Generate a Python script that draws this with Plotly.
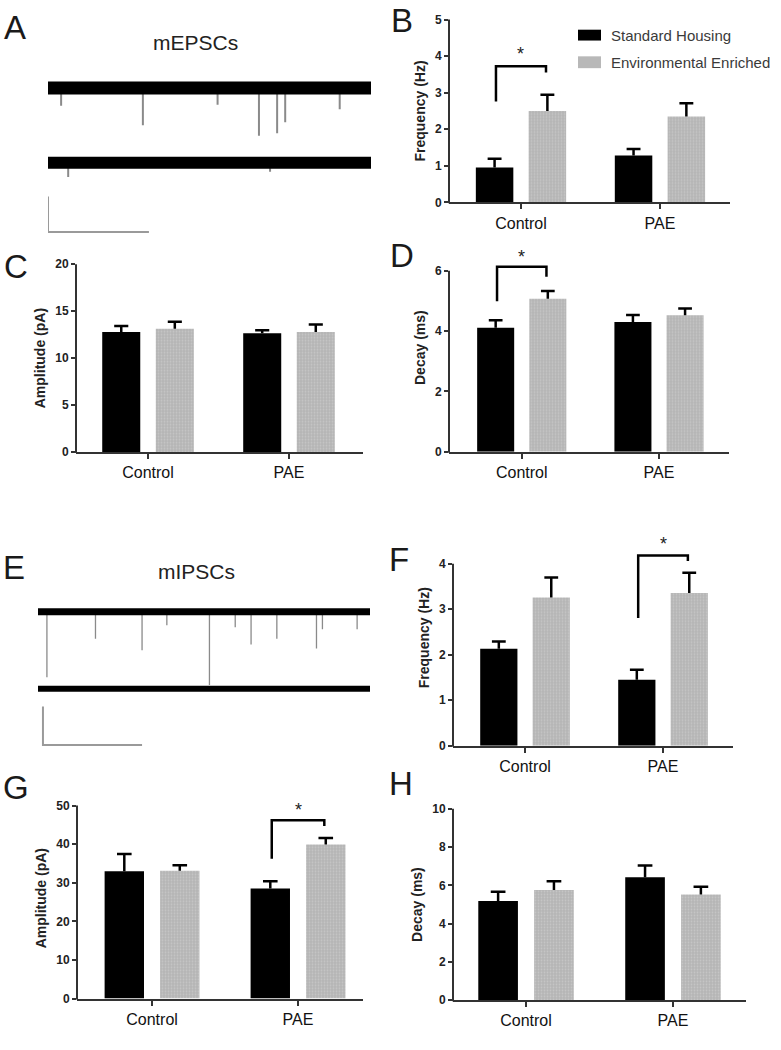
import plotly.graph_objects as go

W, H = 781, 1050
FONT = "Liberation Sans, Arial, sans-serif"

groups = ["Control", "PAE"]
series_names = ["Standard Housing", "Environmental Enriched"]

# ---- mEPSCs ----
b_freq_sh = [0.95, 1.28]
b_freq_sh_sem = [0.24, 0.18]
b_freq_ee = [2.50, 2.35]
b_freq_ee_sem = [0.44, 0.36]

c_amp_sh = [12.78, 12.64]
c_amp_sh_sem = [0.63, 0.32]
c_amp_ee = [13.13, 12.78]
c_amp_ee_sem = [0.74, 0.81]

d_decay_sh = [4.11, 4.30]
d_decay_sh_sem = [0.25, 0.23]
d_decay_ee = [5.07, 4.52]
d_decay_ee_sem = [0.26, 0.23]

# ---- mIPSCs ----
f_freq_sh = [2.13, 1.45]
f_freq_sh_sem = [0.16, 0.22]
f_freq_ee = [3.26, 3.36]
f_freq_ee_sem = [0.44, 0.44]

g_amp_sh = [32.96, 28.5]
g_amp_sh_sem = [4.5, 1.9]
g_amp_ee = [33.1, 39.9]
g_amp_ee_sem = [1.4, 1.7]

h_decay_sh = [5.19, 6.43]
h_decay_sh_sem = [0.48, 0.61]
h_decay_ee = [5.76, 5.53]
h_decay_ee_sem = [0.46, 0.40]

# example traces: event times (s) and amplitudes (pA)
mepsc_duration = 3.2
mepsc_top_event_t = [0.13, 0.94, 1.68, 2.09, 2.27, 2.35, 2.89]
mepsc_top_event_amp = [10, 21, 9.5, 27, 25.6, 19.4, 12]
mepsc_bottom_event_t = [0.2, 2.2]
mepsc_bottom_event_amp = [8, 5]

mipsc_duration = 3.35
mipsc_top_event_t = [0.09, 0.58, 1.05, 1.30, 1.73, 1.99, 2.15, 2.41, 2.81, 2.87, 3.22]
mipsc_top_event_amp = [34, 14, 20, 7, 38, 8, 17, 14, 19, 9, 9]
mipsc_bottom_event_t = []
mipsc_bottom_event_amp = []

scale_t = 1.0   # s
scale_i = 20.0  # pA

BARGAP = 0.24
BAR_OFF = (1 - BARGAP) / 4   # centre offset of each bar within its group
CAP = 0.05                   # half cap width (category units)


def px_x(p):
    return p / W


def px_y(p):
    return 1 - p / H


fig = go.Figure()
shapes = []
annotations = []
layout = {}

bar_panels = [
    dict(ax=1, sh=b_freq_sh, shs=b_freq_sh_sem, ee=b_freq_ee, ees=b_freq_ee_sem,
         title="Frequency (Hz)", ticks=[0, 1, 2, 3, 4, 5], ymax=5, ytop=5,
         px=(449, 730, 198, 12.7), xr=[-0.518, 1.504],
         sig=dict(g=0, yl=2.76, yt=3.72, yr=3.55, ys=4.17)),
    dict(ax=2, sh=c_amp_sh, shs=c_amp_sh_sem, ee=c_amp_ee, ees=c_amp_ee_sem,
         title="Amplitude (pA)", ticks=[0, 5, 10, 15, 20], ymax=20, ytop=20,
         px=(76, 363, 451, 260.7), xr=[-0.511, 1.525], sig=None),
    dict(ax=3, sh=d_decay_sh, shs=d_decay_sh_sem, ee=d_decay_ee, ees=d_decay_ee_sem,
         title="Decay (ms)", ticks=[0, 2, 4, 6], ymax=6, ytop=6.9,
         px=(449, 729, 450.7, 267.3), xr=[-0.53, 1.51],
         sig=dict(g=0, yl=4.99, yt=6.13, yr=5.8, ys=6.59)),
    dict(ax=4, sh=f_freq_sh, shs=f_freq_sh_sem, ee=f_freq_ee, ees=f_freq_ee_sem,
         title="Frequency (Hz)", ticks=[0, 1, 2, 3, 4], ymax=4, ytop=4.75,
         px=(453, 733, 748.7, 564.3), xr=[-0.522, 1.507],
         sig=dict(g=1, yl=2.81, yt=4.18, yr=4.06, ys=4.52)),
    dict(ax=5, sh=g_amp_sh, shs=g_amp_sh_sem, ee=g_amp_ee, ees=g_amp_ee_sem,
         title="Amplitude (pA)", ticks=[0, 10, 20, 30, 40, 50], ymax=50, ytop=52,
         px=(77, 363, 1005, 809.3), xr=[-0.514, 1.445],
         sig=dict(g=1, yl=36.2, yt=46.2, yr=44.7, ys=50)),
    dict(ax=6, sh=h_decay_sh, shs=h_decay_sh_sem, ee=h_decay_ee, ees=h_decay_ee_sem,
         title="Decay (ms)", ticks=[0, 2, 4, 6, 8, 10], ymax=10, ytop=10,
         px=(453, 746, 1006.7, 812.7), xr=[-0.497, 1.497], sig=None),
]

AXC = "#333333"
xpos = list(range(len(groups)))

for p in bar_panels:
    a = p["ax"]
    xa, ya = f"x{a}", f"y{a}"
    fig.add_trace(go.Bar(
        x=xpos, y=p["sh"], name=series_names[0], xaxis=xa, yaxis=ya,
        marker=dict(color="black", line=dict(width=0)), showlegend=False))
    fig.add_trace(go.Bar(
        x=xpos, y=p["ee"], name=series_names[1], xaxis=xa, yaxis=ya,
        marker=dict(color="#b4b4b4", line=dict(width=0),
                    pattern=dict(shape=".", fgcolor="#d8d8d8", size=3, solidity=0.35,
                                 fillmode="overlay")),
        showlegend=False))
    # one-sided (upper) error bars
    ex, ey = [], []
    for means, sems, sgn in ((p["sh"], p["shs"], -1), (p["ee"], p["ees"], 1)):
        for i, (m, s) in enumerate(zip(means, sems)):
            xc = xpos[i] + sgn * BAR_OFF
            ex += [xc, xc, None, xc - CAP, xc + CAP, None]
            ey += [m, m + s, None, m + s, m + s, None]
    fig.add_trace(go.Scatter(x=ex, y=ey, mode="lines", xaxis=xa, yaxis=ya,
                             line=dict(color="black", width=2.5),
                             showlegend=False, hoverinfo="skip"))
    l, r, y0px, ympx = p["px"]
    toppx = y0px - (y0px - ympx) * p["ytop"] / p["ymax"]
    layout[f"xaxis{a}"] = dict(
        domain=[px_x(l), px_x(r)], anchor=ya, range=p["xr"],
        tickvals=xpos, ticktext=groups,
        showline=True, linewidth=2, linecolor=AXC, ticks="outside", ticklen=5,
        tickwidth=2, tickcolor=AXC, showgrid=False, zeroline=False,
        tickfont=dict(family=FONT, size=16, color="#111"), fixedrange=True)
    layout[f"yaxis{a}"] = dict(
        domain=[px_y(y0px), px_y(toppx)], anchor=xa, range=[0, p["ytop"]],
        tickvals=p["ticks"], showline=False, ticks="outside", ticklen=4,
        tickwidth=2, tickcolor=AXC, showgrid=False, zeroline=False,
        tickfont=dict(family=FONT, size=12, color="#222", weight="bold"),
        title=dict(text=p["title"], standoff=6,
                   font=dict(family=FONT, size=14, color="#222", weight="bold")),
        fixedrange=True)
    shapes.append(dict(type="line", xref="paper", yref="paper",
                       x0=px_x(l), x1=px_x(l), y0=px_y(y0px + 1), y1=px_y(ympx),
                       line=dict(color=AXC, width=2)))
    s = p["sig"]
    if s:
        gx = s["g"]
        xl_, xr_ = gx - 0.18, gx + 0.18
        fig.add_trace(go.Scatter(
            x=[xl_, xl_, xr_, xr_], y=[s["yl"], s["yt"], s["yt"], s["yr"]],
            mode="lines", line=dict(color="black", width=2.5), xaxis=xa, yaxis=ya,
            showlegend=False, hoverinfo="skip"))
        annotations.append(dict(x=gx, y=s["ys"], xref=xa, yref=ya, text="*",
                                showarrow=False, yanchor="middle", yshift=-4,
                                font=dict(family=FONT, size=18, color="#222")))

fig.update_layout(barmode="group", bargap=BARGAP, bargroupgap=0.29)

# ---- trace panels ----
trace_panels = [
    dict(ax=7, dur=mepsc_duration, top_t=mepsc_top_event_t, top_a=mepsc_top_event_amp,
         bot_t=mepsc_bottom_event_t, bot_a=mepsc_bottom_event_amp,
         xpx=(48, 371), ypx=(50, 240), base_px=82, ppa=1.8, sep=42.2,
         band=(13, 12), sb_t0=0.0, sb_top=-61.1, ev_color="#8a8a8a", ev_w=2,
         label="mEPSCs", label_px=(195, 36)),
    dict(ax=8, dur=mipsc_duration, top_t=mipsc_top_event_t, top_a=mipsc_top_event_amp,
         bot_t=mipsc_bottom_event_t, bot_a=mipsc_bottom_event_amp,
         xpx=(38, 370), ypx=(595, 760), base_px=613, ppa=1.95, sep=40.0,
         band=(7, 6), sb_t0=0.05, sb_top=-49.2, ev_color="#8a8a8a", ev_w=1.3,
         label="mIPSCs", label_px=(196, 572)),
]

for tp in trace_panels:
    a = tp["ax"]
    xa, ya = f"x{a}", f"y{a}"
    ex, ey = [], []
    for t, amp in zip(tp["top_t"], tp["top_a"]):
        ex += [t, t, None]
        ey += [0, -amp, None]
    for t, amp in zip(tp["bot_t"], tp["bot_a"]):
        ex += [t, t, None]
        ey += [-tp["sep"], -tp["sep"] - amp, None]
    fig.add_trace(go.Scatter(x=ex, y=ey, mode="lines", xaxis=xa, yaxis=ya,
                             line=dict(color=tp["ev_color"], width=tp["ev_w"]),
                             showlegend=False, hoverinfo="skip"))
    fig.add_trace(go.Scatter(x=[0, tp["dur"]], y=[0, 0], mode="lines", xaxis=xa, yaxis=ya,
                             line=dict(color="black", width=tp["band"][0]),
                             showlegend=False, hoverinfo="skip"))
    fig.add_trace(go.Scatter(x=[0, tp["dur"]], y=[-tp["sep"], -tp["sep"]], mode="lines",
                             xaxis=xa, yaxis=ya,
                             line=dict(color="black", width=tp["band"][1]),
                             showlegend=False, hoverinfo="skip"))
    t0 = tp["sb_t0"]
    fig.add_trace(go.Scatter(
        x=[t0, t0, t0 + scale_t],
        y=[tp["sb_top"], tp["sb_top"] - scale_i, tp["sb_top"] - scale_i],
        mode="lines", xaxis=xa, yaxis=ya, line=dict(color="#9a9a9a", width=2),
        showlegend=False, hoverinfo="skip"))
    xl, xr = tp["xpx"]
    yt, yb = tp["ypx"]
    layout[f"xaxis{a}"] = dict(domain=[px_x(xl), px_x(xr)], anchor=ya,
                               range=[0, tp["dur"]], visible=False, fixedrange=True)
    layout[f"yaxis{a}"] = dict(domain=[px_y(yb), px_y(yt)], anchor=xa,
                               range=[-(yb - tp["base_px"]) / tp["ppa"],
                                      (tp["base_px"] - yt) / tp["ppa"]],
                               visible=False, fixedrange=True)
    lx, ly = tp["label_px"]
    annotations.append(dict(x=px_x(lx), y=px_y(ly), xref="paper", yref="paper",
                            text=tp["label"], showarrow=False, xanchor="center",
                            yanchor="middle",
                            font=dict(family=FONT, size=21, color="#222")))

# ---- legend (panel B) ----
legend_items = [("black", series_names[0], 23, 34), ("#b8b8b8", series_names[1], 50, 62)]
for col, txt, t, b in legend_items:
    shapes.append(dict(type="rect", xref="paper", yref="paper",
                       x0=px_x(578), x1=px_x(601), y0=px_y(b), y1=px_y(t),
                       fillcolor=col, line=dict(width=0)))
    annotations.append(dict(x=px_x(609), y=px_y((t + b) / 2), xref="paper", yref="paper",
                            text=txt, showarrow=False, xanchor="left", yanchor="middle",
                            font=dict(family=FONT, size=15, color="#3a3a3a")))

# ---- panel letters ----
letters = [("A", 2, 20.5), ("B", 389, 14), ("C", 2, 263.5), ("D", 388, 252),
           ("E", 1, 568.5), ("F", 387, 559.5), ("G", 1, 791.5), ("H", 387, 787)]
for txt, x, y in letters:
    annotations.append(dict(x=px_x(x), y=px_y(y), xref="paper", yref="paper",
                            text=txt, showarrow=False, xanchor="left", yanchor="middle",
                            font=dict(family=FONT, size=33, color="#1a1a1a")))

fig.update_layout(
    width=W, height=H, margin=dict(l=0, r=0, t=0, b=0),
    paper_bgcolor="white", plot_bgcolor="white", showlegend=False,
    shapes=shapes, annotations=annotations, font=dict(family=FONT),
    **layout)

fig.write_html("out.html",
               config={"displayModeBar": False, "staticPlot": True},
               post_script="document.body.style.margin='0px';"
                           "document.body.style.overflow='hidden';")
